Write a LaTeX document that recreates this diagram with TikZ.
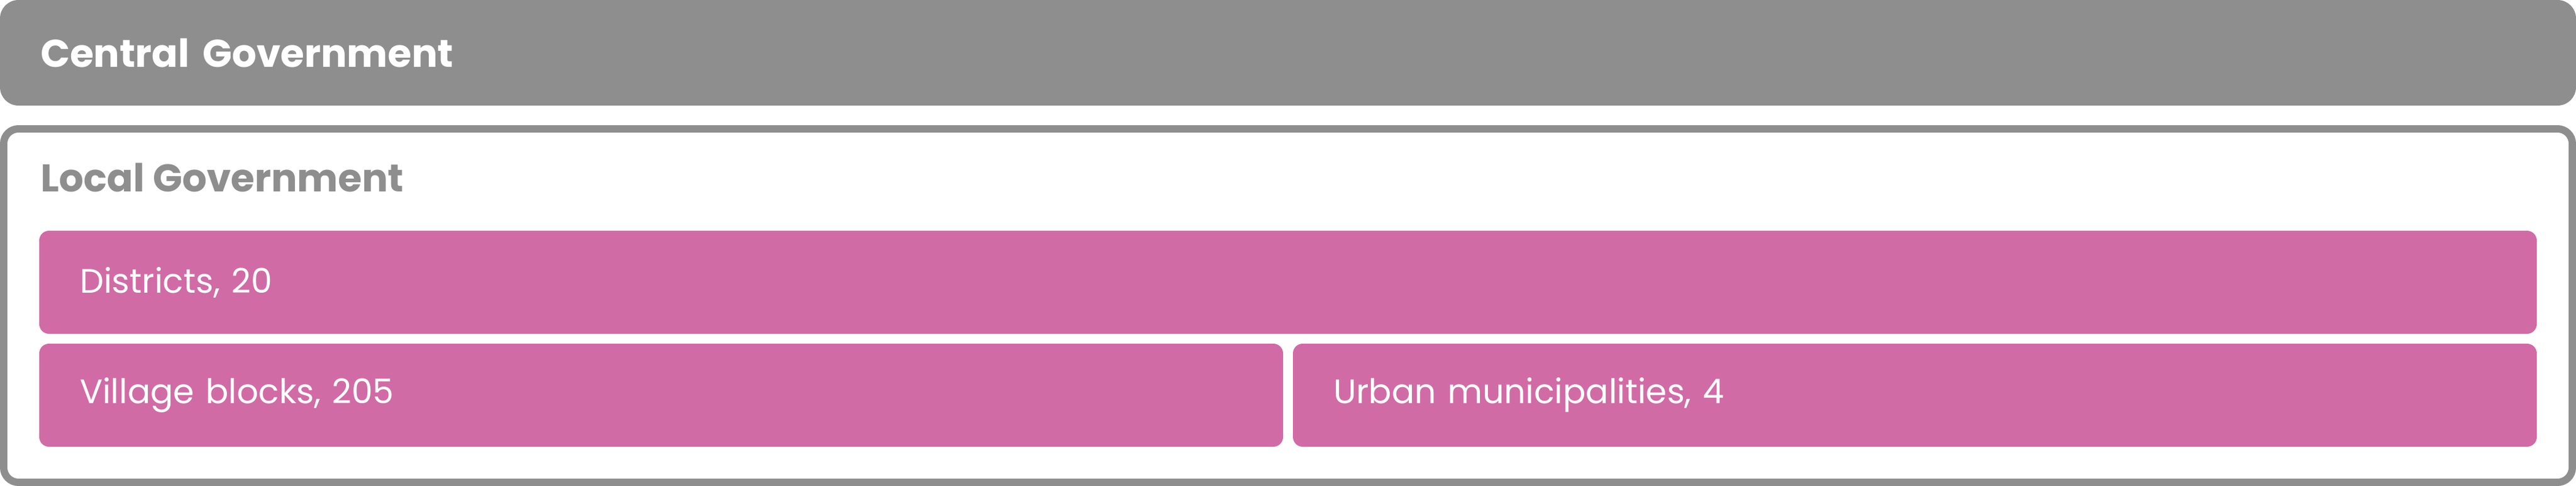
\documentclass[tikz,border=0pt]{standalone}
\usepackage{fontspec}
\setmainfont{Poppins}
\usetikzlibrary{positioning}
\definecolor{govgray}{HTML}{8E8E8E}
\definecolor{unitpink}{HTML}{D16BA5}

\begin{document}
\begin{tikzpicture}[x=1pt, y=1pt, every node/.style={outer sep=0pt},
    % Styles
    central box/.style={fill=govgray, rounded corners=7.5pt, minimum height=43pt, inner xsep=16.5pt, inner ysep=0pt, text width=1017pt, align=left, font=\fontsize{15.75}{19}\selectfont\bfseries, text=white},
    local frame/.style={draw=govgray, line width=3pt, rounded corners=6pt, minimum width=1047pt, minimum height=144pt, inner sep=0pt},
    frame label/.style={font=\fontsize{15.75}{19}\selectfont\bfseries, text=govgray, inner sep=0pt},
    unit box/.style={fill=unitpink, rounded corners=4pt, minimum height=42pt, inner xsep=16.5pt, inner ysep=0pt, text width=#1, align=left, font=\fontsize{13.8}{17}\selectfont, text=white},
]
    \useasboundingbox (0,0) rectangle (1050,-198);

    % Central level
    \node[central box, anchor=north west] (central) at (0,0) {Central Government};

    % Local level - frame and its heading
    \node[local frame, below right=9.5pt and 1.5pt of central.south west, anchor=north west] (local) {};
    \node[frame label, below right=25.5pt and 15pt of local.north west, anchor=base west] (local label) {Local Government};

    % Units inside the frame
    \node[unit box=985pt, below right=41.5pt and 14.5pt of local.north west, anchor=north west] (districts) {Districts, 20};
    \node[unit box=474pt, below=4pt of districts.south west, anchor=north west] (village) {Village blocks, 205};
    \node[unit box=474pt, right=4pt of village] (urban) {Urban municipalities, 4};
\end{tikzpicture}
\end{document}
